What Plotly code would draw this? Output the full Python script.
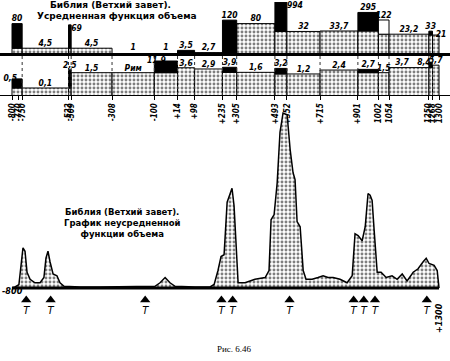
import plotly.graph_objects as go

# ---------------- data ----------------
bounds = [-800, -750, -522, -509, -308, -100, 14, 98, 235, 305, 493, 552,
          715, 901, 1002, 1054, 1250, 1268, 1300]
upper_vals = [80, 4.5, 69, 4.5, 1, 1, 3.5, 2.7, 120, 80, 994, 32, 33.7,
              295, 122, 23.2, 33, 21]
lower_vals = [0.5, 0.1, 2.5, 1.5, 1.5, 11.9, 3.6, 2.9, 3.9, 1.6, 3.2, 1.2,
              2.4, 2.7, 1.5, 3.7, 8.4, 5.7]
tick_years = [-800, -770, -750, -522, -509, -308, -100, 14, 98, 235, 305,
              493, 552, 715, 901, 1002, 1054, 1250, 1268, 1300]
tick_labels = ["-800", "-770", "-750", "-522", "-509", "-308", "-100", "+14",
               "+98", "+235", "+305", "+493", "+552", "+715", "+901", "1002",
               "1054", "1250", "1268", "1300"]
raw_years = [-800, -785, -766, -756, -746, -736, -726, -711, -687, -662, -643,
             -633, -623, -613, -598, -579, -564, -544, -465, -367, -269, -170,
             -97, -72, -47, -23, 2, 100, 174, 194, 213, 228, 243, 258, 267,
             282, 292, 302, 312, 346, 395, 445, 464, 474, 489, 504, 518, 533,
             553, 568, 582, 592, 602, 617, 632, 646, 676, 705, 730, 754, 779,
             813, 848, 873, 887, 902, 922, 937, 951, 961, 971, 981, 996, 1015,
             1040, 1069, 1094, 1119, 1143, 1173, 1197, 1222, 1237, 1251, 1276,
             1291, 1300]
raw_volume = [0, 0.6, 2, 13, 23, 21, 9, 5, 3, 3, 6, 17, 21, 15, 8, 7, 3, 1,
              0.6, 0.6, 0.6, 0.6, 1, 3, 6, 3, 1, 0.6, 0.6, 2, 10, 18, 19, 49,
              52, 57, 47, 22, 3, 3, 5, 6, 10, 39, 42, 60, 89, 100, 99, 79, 66,
              62, 38, 35, 10, 5, 5, 6, 7, 6, 6, 5, 3, 7, 31, 30, 27, 35, 54,
              53, 50, 33, 9, 9, 6, 7, 5, 8, 4, 9, 11, 15, 17, 14, 13, 10, 0]
t_years = [-730, -610, -145, 230, 285, 565, 880, 930, 985, 1240]

# ---------------- styles ----------------
BLACK_UP = {0, 2, 6, 8, 10, 13, 16}
WHITE_UP = {14}
BLACK_LO = {0, 2, 5, 8, 10, 13, 16}
LOWER_NAME = {4: "Рим"}
UP_POS = {2: "bottom right", 10: "bottom right", 17: "middle right"}
LO_POS = {0: "middle left", 5: "middle left", 15: "top left", 16: "middle left"}
XR = [-859, 1354]
UP_RANGE = [0.41, 3.0]
LO_RANGE = [-1.54, 1.615]
BOT_RANGE = [-17.14, 102.86]
T_Y = -6.86
STIP = dict(shape=".", fgcolor="black", bgcolor="white", size=4, solidity=0.42)
LBL = dict(family="DejaVu Sans Condensed, DejaVu Sans, sans-serif", size=8.5,
           color="black", style="italic", weight="bold")

mids = [(a + b) / 2 for a, b in zip(bounds[:-1], bounds[1:])]
widths = [b - a for a, b in zip(bounds[:-1], bounds[1:])]


def fmt(v):
    return (str(int(v)) if float(v).is_integer() else str(v)).replace(".", ",")


def nb_min(vals, i):
    return min(vals[j] for j in (i - 1, i + 1) if 0 <= j < len(vals))


fig = go.Figure()
BASE = 1e-3


def add_panel(vals, black, white, xa, ya):
    stip_top = [nb_min(vals, i) if (i in black or i in white) else v
                for i, v in enumerate(vals)]
    fig.add_trace(go.Bar(x=mids, width=widths, base=[BASE] * len(vals),
                         y=[t - BASE for t in stip_top], xaxis=xa, yaxis=ya,
                         marker=dict(color="white", pattern=STIP,
                                     line=dict(color="black", width=1)),
                         showlegend=False, hoverinfo="skip"))
    for group, col in ((black, "black"), (white, "white")):
        idx = sorted(group)
        fig.add_trace(go.Bar(x=[mids[i] for i in idx], width=[widths[i] for i in idx],
                             base=[nb_min(vals, i) for i in idx],
                             y=[vals[i] - nb_min(vals, i) for i in idx],
                             xaxis=xa, yaxis=ya,
                             marker=dict(color=col, line=dict(color="black", width=1)),
                             showlegend=False, hoverinfo="skip"))


# dotted boundary lines in the lower band
dx, dy = [], []
for b in bounds[1:-1]:
    dx += [b, b, None]
    dy += [10 ** LO_RANGE[0], 10 ** LO_RANGE[1], None]
fig.add_trace(go.Scatter(x=dx, y=dy, mode="lines", xaxis="x2", yaxis="y2",
                         line=dict(color="#333", width=1, dash="dot"),
                         showlegend=False, hoverinfo="skip"))

add_panel(upper_vals, BLACK_UP, WHITE_UP, "x", "y")
add_panel(lower_vals, BLACK_LO, set(), "x2", "y2")

# value labels
up_lo = 10 ** UP_RANGE[0] * 1.08
up_x = [bounds[i + 1] if UP_POS.get(i) == "bottom right" else m for i, m in enumerate(mids)]
fig.add_trace(go.Scatter(x=up_x, y=[max(v, up_lo) for v in upper_vals], mode="text",
                         text=[fmt(v) for v in upper_vals],
                         textposition=[UP_POS.get(i, "top center") for i in range(len(mids))],
                         textfont=LBL, xaxis="x", yaxis="y", cliponaxis=False,
                         showlegend=False, hoverinfo="skip"))
lo_text = [LOWER_NAME.get(i, fmt(v)) for i, v in enumerate(lower_vals)]
fig.add_trace(go.Scatter(x=mids, y=lower_vals, mode="text", text=lo_text,
                         textposition=[LO_POS.get(i, "top center") for i in range(len(mids))],
                         textfont=LBL, xaxis="x2", yaxis="y2", cliponaxis=False,
                         showlegend=False, hoverinfo="skip"))

# bottom chart: unaveraged volume function
fig.add_trace(go.Scatter(x=raw_years, y=raw_volume, mode="lines", fill="tozeroy",
                         fillcolor="white", fillpattern=STIP,
                         line=dict(color="black", width=1.5),
                         xaxis="x3", yaxis="y3", showlegend=False, hoverinfo="skip"))
fig.add_trace(go.Scatter(x=[bounds[0], bounds[-1]], y=[0, 0], mode="lines",
                         line=dict(color="black", width=3), xaxis="x3", yaxis="y3",
                         showlegend=False, hoverinfo="skip"))
fig.add_trace(go.Scatter(x=t_years, y=[T_Y] * len(t_years), mode="markers+text",
                         marker=dict(symbol="triangle-up", size=9, color="black"),
                         text=["T"] * len(t_years), textposition="bottom center",
                         textfont=dict(family="DejaVu Sans, sans-serif", size=10,
                                       style="italic", color="black"),
                         xaxis="x3", yaxis="y3", cliponaxis=False,
                         showlegend=False, hoverinfo="skip"))

H = 361.0


def py(p):
    return 1 - p / H


hidden = dict(visible=False)
fig.update_layout(
    width=450, height=361, margin=dict(l=0, r=0, t=0, b=0),
    paper_bgcolor="white", plot_bgcolor="rgba(0,0,0,0)", barmode="overlay",
    bargap=0, hovermode=False,
    xaxis=dict(range=XR, domain=[0, 1], anchor="y", showgrid=False, zeroline=False,
               showticklabels=False, ticks="", showline=True, linecolor="black",
               linewidth=2.5),
    yaxis=dict(type="log", range=UP_RANGE, domain=[py(53), py(2)], visible=False),
    xaxis2=dict(range=XR, domain=[0, 1], anchor="y2", showgrid=False, zeroline=False,
                showline=True, linecolor="black", linewidth=1,
                tickmode="array", tickvals=tick_years, ticktext=tick_labels,
                ticks="outside", ticklen=4, tickcolor="black", tickangle=-90,
                tickfont=dict(family="DejaVu Sans Condensed, DejaVu Sans, sans-serif",
                              size=8, color="black", style="italic", weight="bold")),
    yaxis2=dict(type="log", range=LO_RANGE, domain=[py(95), py(54)], visible=False),
    xaxis3=dict(range=XR, domain=[0, 1], anchor="y3", **hidden),
    yaxis3=dict(range=BOT_RANGE, domain=[py(318), py(108)], **hidden),
)

TITLE = dict(family="DejaVu Sans, sans-serif", size=9, color="black", weight="bold")
ann = [
    dict(text="Библия (Ветхий завет).", x=110 / 450, y=py(5), font=TITLE),
    dict(text="Усредненная функция объема", x=117 / 450, y=py(16), font=TITLE),
    dict(text="Библия (Ветхий завет).<br>График неусредненной<br>функции объема",
         x=122 / 450, y=py(223), font=dict(TITLE, size=8.5)),
    dict(text="Рис. 6.46", x=234 / 450, y=py(349),
         font=dict(family="Liberation Serif, serif", size=9, color="black")),
    dict(text="-800", x=0, xanchor="left", y=py(291),
         font=dict(LBL, size=9)),
    dict(text="+1300", x=439 / 450, y=py(318), textangle=-90,
         font=dict(LBL, size=9)),
]
for a in ann:
    a.setdefault("xanchor", "center")
    fig.add_annotation(xref="paper", yref="paper", showarrow=False, yanchor="middle", **a)

fig.write_html("out.html", config={"displayModeBar": False, "staticPlot": True},
               post_script="document.body.style.margin='0';document.body.style.overflow='hidden';")
